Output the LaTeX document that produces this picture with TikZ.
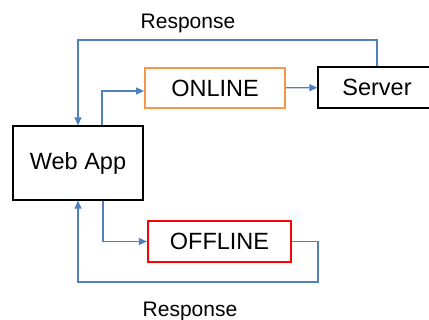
\documentclass[tikz,border=0pt]{standalone}
\usepackage{fontspec}
\setmainfont{Liberation Sans}
\usetikzlibrary{arrows.meta}
\definecolor{lblue}{RGB}{79,129,189}
\definecolor{lorange}{RGB}{247,150,70}
\definecolor{lred}{RGB}{255,0,0}
\begin{document}
\begin{tikzpicture}[x=1pt,y=-1pt,
  box/.style={draw=black,line width=1.2pt,rectangle,inner sep=0pt,font=\fontsize{23.5}{27}\selectfont},
  arr/.style={draw=lblue,line width=1.2pt,-{Triangle[length=8pt,width=7pt]}},
  lbl/.style={font=\fontsize{21}{25}\selectfont,inner sep=0pt}]
\useasboundingbox (0,0) rectangle (429,320);
\node[box,minimum width=130pt,minimum height=74pt] (webapp) at (78,163) {Web App};
\node[box,draw=lorange,line width=1.8pt,minimum width=140pt,minimum height=40pt] (online) at (215,88) {ONLINE};
\node[box,minimum width=118pt,minimum height=41pt] (server) at (377,87.5) {Server};
\node[box,draw=lred,line width=2.2pt,minimum width=143pt,minimum height=41pt] (offline) at (219.5,241.5) {OFFLINE};
\node[lbl] (rtop) at (188,23) {Response};
\node[lbl] (rbot) at (190,311) {Response};
\coordinate (ct) at (78,40);
\coordinate (cb) at (318,282);
\draw[arr] (server.north) |- (ct) -- (webapp.north);
\draw[arr] ([xshift=24pt]webapp.north) |- ([yshift=-3pt]online.west);
\draw[arr] (online) -- (server);
\draw[arr] ([xshift=25pt]webapp.south) |- (offline.west);
\draw[arr] (offline.east) -| (cb) -| (webapp.south);
\end{tikzpicture}
\end{document}
